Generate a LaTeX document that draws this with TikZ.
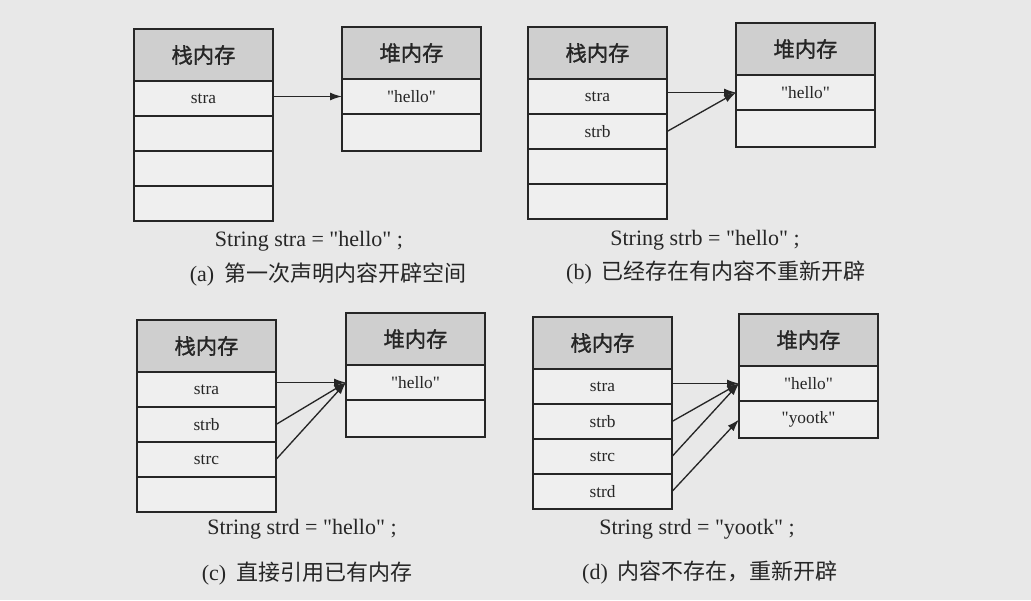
\documentclass[tikz,border=0pt]{standalone}
\usepackage{fontspec}
\setmainfont{Liberation Serif}[Ligatures=TeXOff]
\newfontfamily\cjk{Noto Sans CJK SC}
\newfontfamily\cjkhdr{Noto Sans CJK SC}[FakeBold=1.3]
\usetikzlibrary{positioning,arrows.meta}
\definecolor{pagebg}{HTML}{E8E8E8}
\definecolor{hdrfill}{HTML}{CFCFCF}
\definecolor{cellfill}{HTML}{EFEFEF}
\definecolor{ink}{HTML}{262626}
\tikzset{
  box/.style={draw=ink, line width=1.1pt, outer sep=0pt, inner sep=0pt, minimum width=104.25pt, text=ink},
  hdr/.style={box, fill=hdrfill, minimum height=39pt, font=\cjkhdr\fontsize{16}{18}\selectfont},
  cell/.style={box, fill=cellfill, minimum height=26.25pt, font=\fontsize{13}{15}\selectfont},
  tallcell/.style={cell, minimum height=27.75pt},
  ptr/.style={draw=ink, line width=1pt, -{Latex[length=9pt,width=6pt]}},
  codeline/.style={font=\fontsize{16.5}{20}\selectfont, text=ink, inner sep=0pt},
  capline/.style={font=\fontsize{16.5}{20}\selectfont, text=ink, inner sep=0pt},
}
\begin{document}
\begin{tikzpicture}[x=0.75pt,y=-0.75pt]
\fill[pagebg] (0,0) rectangle (1031,600);
\useasboundingbox (0,0) rectangle (1031,600);

% ---------- (a) ----------
\node[hdr, anchor=north west] (as0) at (134,29) {栈内存};
\node[cell, below=0pt of as0] (as1) {stra};
\node[cell, below=0pt of as1] (as2) {};
\node[cell, below=0pt of as2] (as3) {};
\node[cell, below=0pt of as3] (as4) {};
\node[hdr, anchor=north west] (ah0) at (342,27) {堆内存};
\node[cell, below=0pt of ah0] (ah1) {"hello"};
\node[tallcell, below=0pt of ah1] (ah2) {};
\draw[ptr] (as1.east |- ah1.west) -- (ah1.west);
\node[codeline] (acode) at (309,241) {String stra = "hello" ;};
\node[capline] (acap) at (328,275) {(a)\hspace{0.45em}{\cjk 第一次声明内容开辟空间}};

% ---------- (b) ----------
\node[hdr, anchor=north west] (bs0) at (528,27) {栈内存};
\node[cell, below=0pt of bs0] (bs1) {stra};
\node[cell, below=0pt of bs1] (bs2) {strb};
\node[cell, below=0pt of bs2] (bs3) {};
\node[cell, below=0pt of bs3] (bs4) {};
\node[hdr, anchor=north west] (bh0) at (736,23) {堆内存};
\node[cell, below=0pt of bh0] (bh1) {"hello"};
\node[tallcell, below=0pt of bh1] (bh2) {};
\draw[ptr] (bs1.east |- bh1.west) -- (bh1.west);
\draw[ptr] (bs2.east) -- (bh1.west);
\node[codeline] (bcode) at (705,240) {String strb = "hello" ;};
\node[capline] (bcap) at (716,273) {(b)\hspace{0.45em}{\cjk 已经存在有内容不重新开辟}};

% ---------- (c) ----------
\node[hdr, anchor=north west] (cs0) at (137,320) {栈内存};
\node[cell, below=0pt of cs0] (cs1) {stra};
\node[cell, below=0pt of cs1] (cs2) {strb};
\node[cell, below=0pt of cs2] (cs3) {strc};
\node[cell, below=0pt of cs3] (cs4) {};
\node[hdr, anchor=north west] (ch0) at (346,313) {堆内存};
\node[cell, below=0pt of ch0] (ch1) {"hello"};
\node[tallcell, below=0pt of ch1] (ch2) {};
\draw[ptr] (cs1.east |- ch1.west) -- (ch1.west);
\draw[ptr] (cs2.east) -- (ch1.west);
\draw[ptr] (cs3.east) -- (ch1.west);
\node[codeline] (ccode) at (302,529) {String strd = "hello" ;};
\node[capline] (ccap) at (307,574) {(c)\hspace{0.45em}{\cjk 直接引用已有内存}};

% ---------- (d) ----------
\node[hdr, anchor=north west] (ds0) at (533,317) {栈内存};
\node[cell, below=0pt of ds0] (ds1) {stra};
\node[cell, below=0pt of ds1] (ds2) {strb};
\node[cell, below=0pt of ds2] (ds3) {strc};
\node[cell, below=0pt of ds3] (ds4) {strd};
\node[hdr, anchor=north west] (dh0) at (739,314) {堆内存};
\node[cell, below=0pt of dh0] (dh1) {"hello"};
\node[tallcell, below=0pt of dh1] (dh2) {"yootk"};
\draw[ptr] (ds1.east |- dh1.west) -- (dh1.west);
\draw[ptr] (ds2.east) -- (dh1.west);
\draw[ptr] (ds3.east) -- (dh1.west);
\draw[ptr] (ds4.east) -- (dh2.west);
\node[codeline] (dcode) at (697,529) {String strd = "yootk" ;};
\node[capline] (dcap) at (710,573) {(d)\hspace{0.45em}{\cjk 内容不存在，重新开辟}};
\end{tikzpicture}
\end{document}
